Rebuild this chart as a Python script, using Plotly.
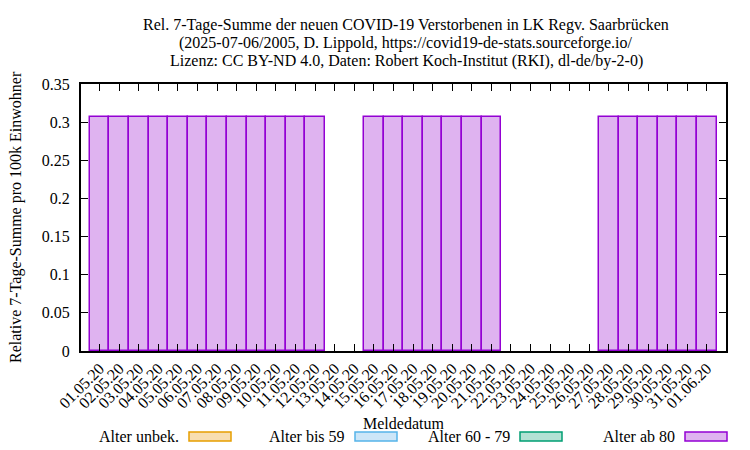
import plotly.graph_objects as go

dates = ["01.05.20", "02.05.20", "03.05.20", "04.05.20", "05.05.20", "06.05.20", "07.05.20", "08.05.20",
         "09.05.20", "10.05.20", "11.05.20", "12.05.20", "13.05.20", "14.05.20", "15.05.20", "16.05.20",
         "17.05.20", "18.05.20", "19.05.20", "20.05.20", "21.05.20", "22.05.20", "23.05.20", "24.05.20",
         "25.05.20", "26.05.20", "27.05.20", "28.05.20", "29.05.20", "30.05.20", "31.05.20", "01.06.20"]
alter_ab_80 = [0.3067] * 12 + [0, 0] + [0.3067] * 7 + [0, 0, 0, 0, 0] + [0.3067] * 6

legend_names = ["Alter unbek.", "Alter bis 59", "Alter 60 - 79", "Alter ab 80"]
legend_fill = ["#f8deb0", "#cce6f8", "#b3e2d4", "#dfb3f0"]
legend_line = ["#e69f00", "#56b4e9", "#009e73", "#9400d3"]

title_lines = ["Rel. 7-Tage-Summe der neuen COVID-19 Verstorbenen in LK Regv. Saarbrücken",
               "(2025-07-06/2005, D. Lippold, https://covid19-de-stats.sourceforge.io/",
               "Lizenz: CC BY-ND 4.0, Daten: Robert Koch-Institut (RKI), dl-de/by-2-0)"]
y_title = "Relative 7-Tage-Summe pro 100k Einwohner"
x_title = "Meldedatum"

FONT = "Liberation Serif, Times New Roman, serif"
FS = 16
OFF = 8  # default page body margin

fig = go.Figure()
fig.add_trace(go.Bar(
    x=dates, y=[v if v > 0 else None for v in alter_ab_80], name="Alter ab 80",
    marker=dict(color=legend_fill[3], line=dict(color=legend_line[3], width=1.5)),
    width=1.0, showlegend=False,
))

# plot area geometry in screen pixels
L, R, T, B = 81, 726, 84, 351
W, H = R - L, B - T

def px(x):
    return (x - L) / W

def py(y):
    return (B - y) / H

shapes = []
annotations = []
legend_text_right = [181, 347, 512, 677]
for name, fc, lc, tx in zip(legend_names, legend_fill, legend_line, legend_text_right):
    annotations.append(dict(text=name, x=px(tx), y=py(436), xref="paper", yref="paper",
                            xanchor="right", yanchor="middle", showarrow=False,
                            font=dict(family=FONT, size=FS, color="black")))
    shapes.append(dict(type="rect", xref="paper", yref="paper",
                       x0=px(tx + 8), x1=px(tx + 50), y0=py(441), y1=py(432),
                       fillcolor=fc, line=dict(color=lc, width=1.5)))

annotations.append(dict(text=x_title, x=px(403), y=py(423), xref="paper", yref="paper",
                        xanchor="center", yanchor="middle", showarrow=False,
                        font=dict(family=FONT, size=FS, color="black")))
for i, line in enumerate(title_lines):
    annotations.append(dict(text=line, x=px(406), y=py(25 + 18 * i), xref="paper", yref="paper",
                            xanchor="center", yanchor="middle", showarrow=False,
                            font=dict(family=FONT, size=FS, color="black")))
annotations.append(dict(text=y_title, x=px(16), y=py(217), xref="paper", yref="paper",
                        xanchor="center", yanchor="middle", showarrow=False, textangle=-90,
                        font=dict(family=FONT, size=FS, color="black")))

fig.update_layout(
    width=750 - OFF, height=450 - OFF,
    margin=dict(l=L - OFF, r=750 - R, t=T - OFF, b=450 - B, pad=0),
    paper_bgcolor="white", plot_bgcolor="white",
    font=dict(family=FONT, size=FS, color="black"),
    bargap=0,
    shapes=shapes,
    annotations=annotations,
    showlegend=False,
)
fig.update_xaxes(
    type="category", range=[-0.95, 31.98], tickangle=-45, automargin=False,
    ticks="inside", ticklen=7, tickcolor="black", tickwidth=1,
    showline=True, linecolor="black", linewidth=2, mirror="allticks",
    showgrid=False, zeroline=False,
    tickfont=dict(family=FONT, size=FS, color="black"),
)
fig.update_yaxes(
    range=[0, 0.35], dtick=0.05, tickformat="~g", automargin=False,
    ticks="inside", ticklen=7, tickcolor="black", tickwidth=1,
    showline=True, linecolor="black", linewidth=2, mirror="allticks",
    showgrid=False, zeroline=False, ticklabelstandoff=6,
    tickfont=dict(family=FONT, size=FS, color="black"),
)

fig.write_html("out.html")
